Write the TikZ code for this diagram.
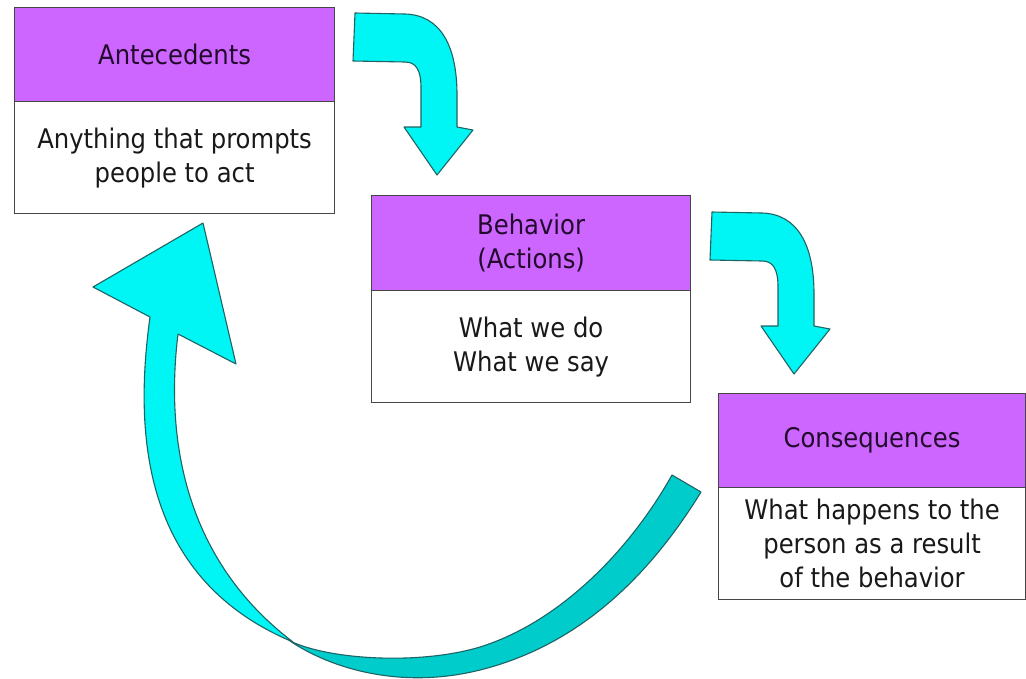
\documentclass[tikz,border=0pt]{standalone}
\usepackage{fontspec}
\setmainfont{DejaVu Sans Condensed}
\definecolor{hdrpurple}{RGB}{204,102,255}
\definecolor{brightcyan}{RGB}{0,245,245}
\definecolor{darkcyan}{RGB}{0,204,204}
\definecolor{arrowline}{RGB}{30,100,100}
\definecolor{boxline}{RGB}{70,70,70}
\definecolor{hdrtext}{RGB}{35,10,45}
\definecolor{bodytext}{RGB}{25,25,25}
\tikzset{
  boxhdr/.style={draw=boxline, line width=1.2pt, fill=hdrpurple, text=hdrtext, anchor=north west,
    align=center, inner sep=0pt, font=\fontsize{27}{34}\selectfont},
  boxbody/.style={draw=boxline, line width=1.2pt, fill=white, text=bodytext, anchor=north west,
    align=center, inner sep=0pt, font=\fontsize{27}{34}\selectfont},
  cyanarrow/.style={fill=brightcyan, draw=arrowline, line width=1.1pt, line join=round},
  darkribbon/.style={fill=darkcyan, draw=arrowline, line width=1.1pt, line join=round},
  bentarrow/.pic={
    \path[cyanarrow] (355,13) -- (405,14) .. controls (440,15) and (457,45) .. (457,95)
      -- (457,127) -- (473,130) -- (437,175) -- (404,127) -- (421,127) -- (421,88)
      .. controls (421,70) and (416,62) .. (405,62) -- (353,61) -- cycle;
  }
}
\begin{document}
\begin{tikzpicture}[x=1pt,y=-1pt]
\useasboundingbox[fill=white] (0,0) rectangle (1026,678);

% Antecedents
\node[boxhdr, minimum width=320pt, minimum height=94pt] (anth) at (14,7) {Antecedents};
\node[boxbody, minimum width=320pt, minimum height=112pt] (antb) at (14,101) {Anything that prompts\\people to act};

% Behavior
\node[boxhdr, minimum width=319pt, minimum height=95pt] (behh) at (371,195) {Behavior\\(Actions)};
\node[boxbody, minimum width=319pt, minimum height=112pt] (behb) at (371,290) {What we do\\What we say};

% Consequences
\node[boxhdr, minimum width=307pt, minimum height=94pt] (conh) at (718,393) {Consequences};
\node[boxbody, minimum width=307pt, minimum height=112pt] (conb) at (718,487) {What happens to the\\person as a result\\of the behavior};

% bent arrows
\pic (arrowone) at (0,0) {bentarrow};
\pic (arrowtwo) at (357,199) {bentarrow};

% big return arrow: lower (darker) ribbon part
\path[darkribbon] (290,641) .. controls (330,660) and (420,665) .. (480,647)
  .. controls (560,622) and (630,550) .. (672,475) -- (701,492)
  .. controls (650,575) and (580,645) .. (480,670)
  .. controls (400,690) and (330,668) .. (290,641) -- cycle;

% upper (bright) part with arrowhead
\path[cyanarrow] (150,317) .. controls (133,440) and (145,580) .. (293,642)
  .. controls (185,560) and (165,440) .. (178,334)
  -- (236,364) -- (203,223) -- (93,287) -- cycle;
\end{tikzpicture}
\end{document}
